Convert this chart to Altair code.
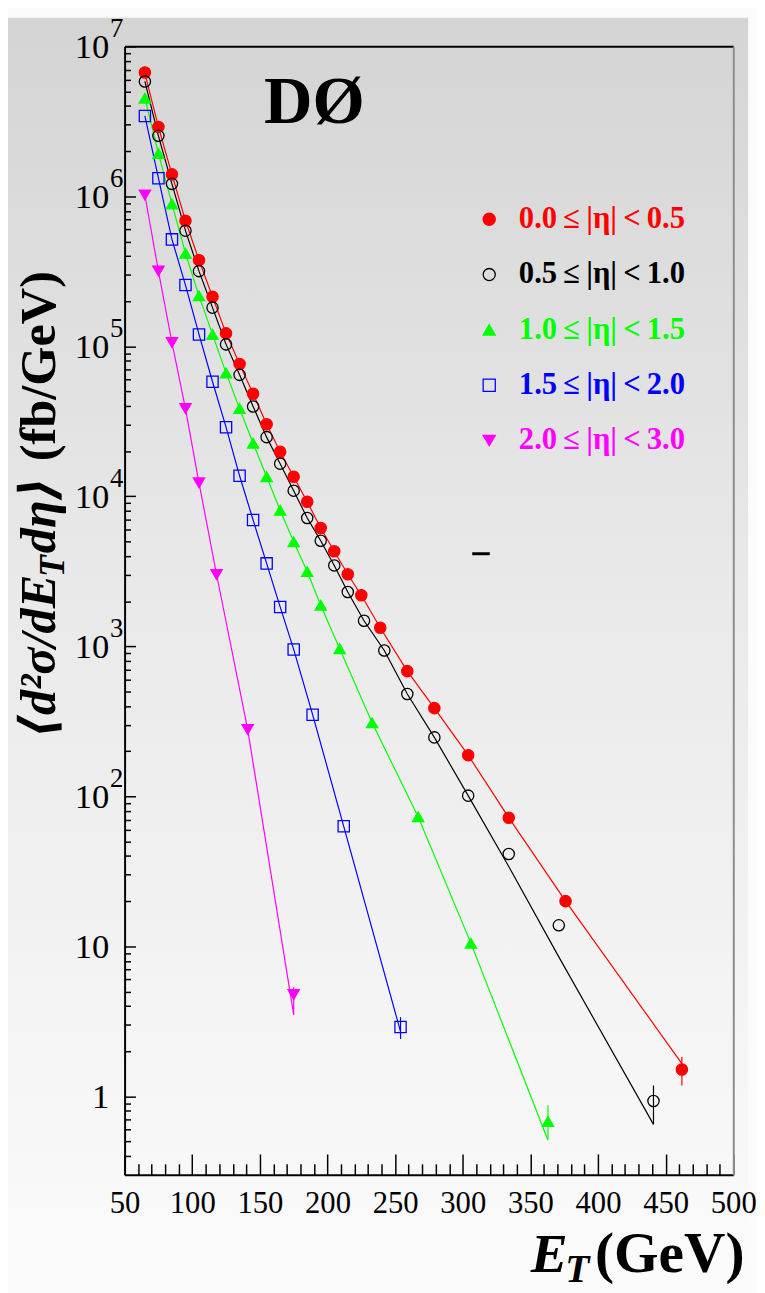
import altair as alt
import pandas as pd

W, H = 616, 1142
SERIF = "Liberation Serif, Times New Roman, Times, DejaVu Serif, serif"

# ---------------- data ----------------
series = ["0.0\u2009≤\u2009|η|\u2009<\u20090.5", "0.5\u2009≤\u2009|η|\u2009<\u20091.0",
          "1.0\u2009≤\u2009|η|\u2009<\u20091.5", "1.5\u2009≤\u2009|η|\u2009<\u20092.0",
          "2.0\u2009≤\u2009|η|\u2009<\u20093.0"]
colors = ["#ff0000", "#000000", "#00ff00", "#0000ff", "#ff00ff"]
fills = ["#ff0000", "transparent", "#00ff00", "transparent", "#ff00ff"]
shapes = ["circle", "circle", "triangle-up", "square", "triangle-down"]

red_E = [65, 75, 85, 95, 105, 115, 125, 135, 145, 155, 165, 175, 185, 195, 205, 215, 225, 239, 259, 279, 304, 334, 376, 462]
red_y = [6.69e6, 2.90e6, 1.40e6, 6.87e5, 3.75e5, 2.14e5, 1.22e5, 7.62e4, 4.83e4, 3.02e4, 1.98e4, 1.35e4,
         9.2e3, 6.15e3, 4.3e3, 3.02e3, 2.19e3, 1.33e3, 683, 387, 188, 72, 20, 1.51]
black_E = [65, 75, 85, 95, 105, 115, 125, 135, 145, 155, 165, 175, 185, 195, 205, 215, 227, 242, 259, 279, 304, 334, 371, 441]
black_y = [5.83e6, 2.53e6, 1.21e6, 5.90e5, 3.17e5, 1.81e5, 1.03e5, 6.45e4, 3.97e4, 2.48e4, 1.65e4, 1.09e4,
           7.16e3, 5.05e3, 3.46e3, 2.30e3, 1.48e3, 938, 481, 247, 101, 41.2, 13.8, 0.93]
green_E = [65, 75, 85, 95, 105, 115, 125, 135, 145, 155, 165, 175, 185, 195, 209, 233, 267, 306, 363]
green_y = [4.51e6, 1.93e6, 8.89e5, 4.17e5, 2.17e5, 1.20e5, 6.65e4, 3.85e4, 2.26e4, 1.35e4, 8.07e3, 4.97e3,
           3.15e3, 1.88e3, 964, 309, 73.1, 10.5, 0.68]
blue_E = [65, 75, 85, 95, 105, 115, 125, 135, 145, 155, 165, 175, 189, 212, 254]
blue_y = [3.43e6, 1.32e6, 5.16e5, 2.56e5, 1.20e5, 5.80e4, 2.89e4, 1.37e4, 6.95e3, 3.57e3, 1.83e3, 953, 350, 63.1, 2.90]
mag_E = [65, 75, 85, 95, 105, 118, 141, 175]
mag_y = [1.02e6, 3.17e5, 1.06e5, 3.84e4, 1.23e4, 3.01e3, 279, 4.77]

# fitted curves
red_fit_E = [65, 75, 85, 95, 105, 115, 125, 135, 145, 155, 165, 175, 185, 195, 205, 215, 225, 239, 259, 279, 304, 334, 376, 462]
red_fit_y = [6.6e6, 2.9e6, 1.40e6, 6.87e5, 3.75e5, 2.14e5, 1.22e5, 7.62e4, 4.83e4, 3.02e4, 1.98e4, 1.35e4,
             9.2e3, 6.15e3, 4.3e3, 3.02e3, 2.19e3, 1.33e3, 683, 387, 188, 72, 20, 1.65]
black_fit_E = [65, 75, 85, 95, 105, 115, 125, 135, 145, 155, 165, 175, 185, 195, 205, 215, 227, 242, 259, 279, 304, 334, 371, 441]
black_fit_y = [5.83e6, 2.53e6, 1.21e6, 5.90e5, 3.17e5, 1.81e5, 1.03e5, 6.45e4, 3.97e4, 2.48e4, 1.65e4, 1.09e4,
               7.16e3, 5.05e3, 3.46e3, 2.30e3, 1.48e3, 938, 481, 247, 101, 34, 8.5, 0.65]
green_fit_E = [65, 75, 85, 95, 105, 115, 125, 135, 145, 155, 165, 175, 185, 195, 209, 233, 267, 306, 363]
green_fit_y = [4.51e6, 1.93e6, 8.89e5, 4.17e5, 2.17e5, 1.20e5, 6.65e4, 3.85e4, 2.26e4, 1.35e4, 8.07e3, 4.97e3,
               3.15e3, 1.88e3, 964, 309, 73.1, 10.5, 0.51]
blue_fit_E = [65, 75, 85, 95, 105, 115, 125, 135, 145, 155, 165, 175, 189, 212, 254]
blue_fit_y = [3.43e6, 1.32e6, 5.16e5, 2.56e5, 1.20e5, 5.80e4, 2.89e4, 1.37e4, 6.95e3, 3.57e3, 1.83e3, 953, 350, 63.1, 2.7]
mag_fit_E = [65, 75, 85, 95, 105, 118, 141, 175]
mag_fit_y = [1.02e6, 3.17e5, 1.06e5, 3.84e4, 1.23e4, 3.01e3, 279, 3.5]

# error bars visible on the last points
err_series = series
err_E = [462, 441, 363, 254, 175]
err_lo = [1.18, 0.65, 0.52, 2.41, 3.49]
err_hi = [1.83, 1.18, 0.87, 3.37, 5.33]

# stray dash in the picture
dash_E = [307, 320]
dash_y = [4140]

x_ticks_major = [50, 100, 150, 200, 250, 300, 350, 400, 450, 500]
y_decades = [1, 10, 100, 1e3, 1e4, 1e5, 1e6, 1e7]
y_exponents = ["2", "3", "4", "5", "6", "7"]

# ---------------- tables ----------------
pts = pd.concat([
    pd.DataFrame({"series": s, "E": e, "v": v})
    for s, e, v in zip(series, [red_E, black_E, green_E, blue_E, mag_E], [red_y, black_y, green_y, blue_y, mag_y])
])
fit = pd.concat([
    pd.DataFrame({"series": s, "E": e, "v": v})
    for s, e, v in zip(series, [red_fit_E, black_fit_E, green_fit_E, blue_fit_E, mag_fit_E],
                       [red_fit_y, black_fit_y, green_fit_y, blue_fit_y, mag_fit_y])
])
err = pd.DataFrame({"series": err_series, "E": err_E, "lo": err_lo, "hi": err_hi})
dash = pd.DataFrame({"E": [dash_E[0]], "E2": [dash_E[1]], "v": dash_y})
exp_df = pd.DataFrame({"dec": [10.0 ** int(e) for e in y_exponents], "t": y_exponents})
leg = pd.DataFrame({"series": series})
leg["py"] = [175 + 56 * i for i in range(len(series))]
one = pd.DataFrame({"k": [0]})

x_scale = alt.Scale(domain=[50, 500], nice=False, zero=False)
y_scale = alt.Scale(type="log", domain=[0.3, 1e7], nice=False)
stroke_scale = alt.Scale(domain=series, range=colors)
fill_scale = alt.Scale(domain=series, range=fills)
shape_scale = alt.Scale(domain=series, range=shapes)

y_minor = []
for d in range(-1, 7):
    for k in range(1, 10):
        val = float(f"{k}e{d}")
        if 0.35 <= val <= 1e7:
            y_minor.append(val)
y_minor.append(1e7)

# ---------------- axes ----------------
x_label_axis = alt.Axis(values=x_ticks_major, ticks=False, domain=True, domainColor="black", domainWidth=2,
                        labelFont=SERIF, labelFontSize=31, labelColor="black", labelPadding=14,
                        title=None, grid=False, labelFlush=False, labelOverlap=False, zindex=2)
y_label_axis = alt.Axis(values=y_decades, ticks=False, domain=True, domainColor="black", domainWidth=2,
                        labelExpr="datum.value >= 10 ? '10' : '1'", labelFont=SERIF, labelFontSize=35,
                        labelColor="black", labelPadding=16, title=None, grid=False, labelOverlap=False,
                        labelFlush=False, zindex=2)
x_tick_axis = alt.Axis(orient="top", offset=-H, values=list(range(50, 501, 10)), labels=False, domain=False,
                       ticks=True, tickColor="black", tickWidth=1.5,
                       tickSize={"condition": {"test": "datum.value % 50 === 0", "value": 21}, "value": 11},
                       title=None, grid=False, zindex=2)
y_tick_axis = alt.Axis(orient="right", offset=-W, values=y_minor, labels=False, domain=False,
                       ticks=True, tickColor="black", tickWidth=1.5,
                       tickSize={"condition": {"test": "abs(log(datum.value)/LN10 - round(log(datum.value)/LN10)) < 1e-6",
                                               "value": 11}, "value": 6},
                       title=None, grid=False, zindex=2)
x_frame_axis = alt.Axis(orient="top", labels=False, ticks=False, domain=True, domainColor="black",
                        domainWidth=2, title=None, grid=False, zindex=2)
y_frame_axis = alt.Axis(orient="right", labels=False, ticks=False, domain=True, domainColor="#8c8c8c",
                        domainWidth=2, title=None, grid=False, zindex=2)

# ---------------- layers ----------------
bg = alt.Chart(one).mark_rect(
    fill=alt.LinearGradient(gradient="linear", x1=0, x2=0, y1=0, y2=1,
                            stops=[alt.GradientStop(color="#d4d4d4", offset=0),
                                   alt.GradientStop(color="#e9e9e9", offset=0.45),
                                   alt.GradientStop(color="#fbfbfb", offset=1)])
).encode(x=alt.value(-118), x2=alt.value(W + 15), y=alt.value(-29), y2=alt.value(H + 112))

lines = alt.Chart(fit).mark_line(strokeWidth=1.2).encode(
    x=alt.X("E:Q", scale=x_scale, axis=x_label_axis),
    y=alt.Y("v:Q", scale=y_scale, axis=y_label_axis),
    stroke=alt.Stroke("series:N", scale=stroke_scale, legend=None),
    detail="series:N",
)

errs = alt.Chart(err).mark_rule(strokeWidth=1.2).encode(
    x=alt.X("E:Q", scale=x_scale, axis=x_frame_axis),
    y=alt.Y("lo:Q", scale=y_scale, axis=y_frame_axis),
    y2="hi:Q",
    stroke=alt.Stroke("series:N", scale=stroke_scale, legend=None),
)

dash_l = alt.Chart(dash).mark_rule(strokeWidth=3, color="black").encode(
    x=alt.X("E:Q", scale=x_scale, axis=None), x2="E2:Q",
    y=alt.Y("v:Q", scale=y_scale, axis=None),
)

points = alt.Chart(pts).mark_point(size=130, strokeWidth=1.3, opacity=1).encode(
    x=alt.X("E:Q", scale=x_scale, axis=x_tick_axis),
    y=alt.Y("v:Q", scale=y_scale, axis=y_tick_axis),
    stroke=alt.Stroke("series:N", scale=stroke_scale, legend=None),
    fill=alt.Fill("series:N", scale=fill_scale, legend=None),
    shape=alt.Shape("series:N", scale=shape_scale, legend=None),
)

exps = alt.Chart(exp_df).mark_text(font=SERIF, fontSize=27, color="black", align="center",
                                   baseline="middle", dy=-17).encode(
    x=alt.value(-8), y=alt.Y("dec:Q", scale=y_scale, axis=None), text="t:N")

leg_pts = alt.Chart(leg).mark_point(size=150, strokeWidth=1.3, opacity=1).encode(
    x=alt.value(369), y=alt.Y("py:Q", scale=None, axis=None),
    stroke=alt.Stroke("series:N", scale=stroke_scale, legend=None),
    fill=alt.Fill("series:N", scale=fill_scale, legend=None),
    shape=alt.Shape("series:N", scale=shape_scale, legend=None),
)
leg_txt = alt.Chart(leg).mark_text(font=SERIF, fontWeight="bold", fontSize=31, align="left",
                                   baseline="middle").encode(
    x=alt.value(399), y=alt.Y("py:Q", scale=None, axis=None), text="series:N",
    color=alt.Color("series:N", scale=stroke_scale, legend=None),
)


def txt(text, x, y, size, style="normal", angle=0, align="left", baseline="alphabetic"):
    return alt.Chart(one).mark_text(text=text, font=SERIF, fontSize=size, fontWeight="bold",
                                    fontStyle=style, angle=angle, align=align, baseline=baseline,
                                    color="black").encode(x=alt.value(x), y=alt.value(y))


texts = [
    txt("DØ", 192, 58, 68, align="center", baseline="middle"),
    # y title (rotated)
    txt("⟨d²σ/dE", -85, 700, 51, style="italic", angle=270, baseline="middle"),
    txt("T", -72, 537, 36, style="italic", angle=270, baseline="middle"),
    txt("dη⟩", -85, 513, 51, style="italic", angle=270, baseline="middle"),
    txt("(fb/GeV)", -85, 420, 51, angle=270, baseline="middle"),
    # x title
    txt("E", 411, H + 98, 56, style="italic"),
    txt("T", 446, H + 109, 40, style="italic"),
    txt("(GeV)", 476, H + 98, 58),
]

chart = alt.layer(bg, lines, errs, dash_l, points, exps, leg_pts, leg_txt, *texts).resolve_axis(
    x="independent", y="independent"
).properties(width=W, height=H, padding=0).configure_view(stroke=None).configure(background="#fbfbfb")

chart.save("out.html", embed_options={"renderer": "svg", "actions": False})
